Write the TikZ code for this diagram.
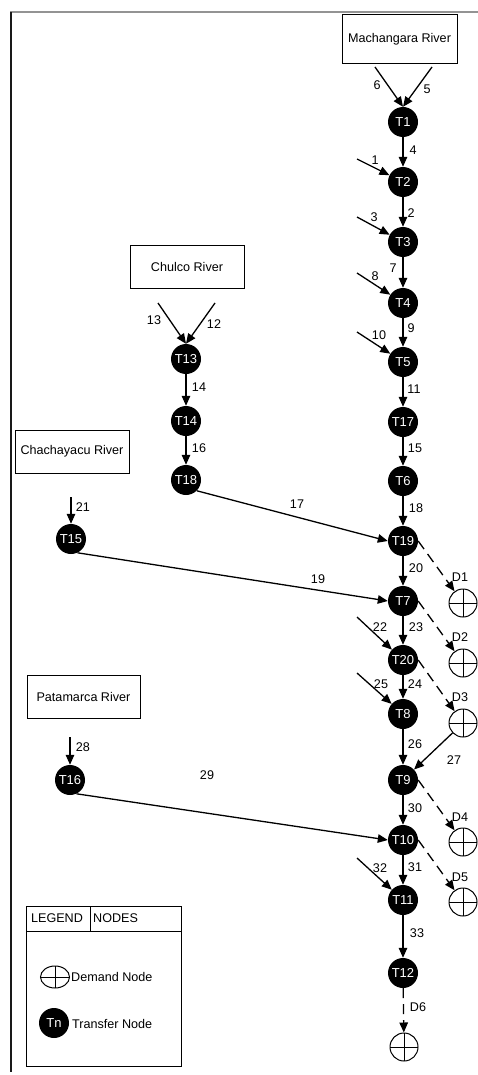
\documentclass[tikz,border=0pt]{standalone}
\usepackage{fontspec}
\setmainfont{Liberation Sans}
\usetikzlibrary{arrows.meta}
\begin{document}
\begin{tikzpicture}[x=1pt,y=-1pt,
  every node/.style={font=\fontsize{12.6}{15}\selectfont},
  tnode/.style={circle,fill=black,text=white,minimum size=30pt,inner sep=0pt,font=\fontsize{13}{15}\selectfont},
  dnode/.style={circle,draw=black,line width=1pt,fill=white,minimum size=28pt,inner sep=0pt,
    path picture={\draw[line width=1pt] (path picture bounding box.north) -- (path picture bounding box.south)
      (path picture bounding box.west) -- (path picture bounding box.east);}},
  river/.style={draw=black,line width=1pt,fill=white,minimum height=43pt,inner sep=0pt},
  flow/.style={line width=1.3pt,-{Triangle[length=10pt,width=8.5pt]}},
  dflow/.style={flow,dash pattern=on 10pt off 6pt},
  lab/.style={inner sep=0pt}
]
\useasboundingbox (0,0) rectangle (478,1075);
% frame
\draw[line width=1.5pt,gray!85] (10,12) -- (478,12);
\draw[line width=2pt,black!90] (11,12) -- (11,1072);

% rivers
\node[river,minimum width=115pt,minimum height=49pt] (mach) at (399.5,39.5) {Machangara River};
\node[river,minimum width=114pt] (chul) at (187,266.5) {Chulco River};
\node[river,minimum width=114pt] (chach) at (72,451.5) {Chachayacu River};
\node[river,minimum width=113pt] (pata) at (83.5,696.5) {Patamarca River};

% transfer nodes
\node[tnode] (T1) at (403,122) {T1};
\node[tnode] (T2) at (403,182) {T2};
\node[tnode] (T3) at (403,242) {T3};
\node[tnode] (T4) at (403,303) {T4};
\node[tnode] (T5) at (403,362) {T5};
\node[tnode] (T17) at (403,422) {T17};
\node[tnode] (T6) at (403,481) {T6};
\node[tnode] (T19) at (403,541) {T19};
\node[tnode] (T7) at (403,601) {T7};
\node[tnode] (T20) at (403,660) {T20};
\node[tnode] (T8) at (403,714) {T8};
\node[tnode] (T9) at (403,780) {T9};
\node[tnode] (T10) at (403,840) {T10};
\node[tnode] (T11) at (403,900) {T11};
\node[tnode] (T12) at (403,973) {T12};
\node[tnode] (T13) at (186,359) {T13};
\node[tnode] (T14) at (186,421) {T14};
\node[tnode] (T18) at (186,480) {T18};
\node[tnode] (T15) at (71,539) {T15};
\node[tnode] (T16) at (70,780) {T16};

% demand nodes
\node[dnode] (D1) at (463,603) {};
\node[dnode] (D2) at (463,663) {};
\node[dnode] (D3) at (463,723) {};
\node[dnode] (D4) at (463,842) {};
\node[dnode] (D5) at (463,902) {};
\node[dnode] (D6) at (404,1047) {};

% free ends
\coordinate (s6) at (375,67);
\coordinate (s5) at (432,67);
\coordinate (s13) at (158,303);
\coordinate (s12) at (215,303);
\coordinate (s1) at (357,159);
\coordinate (s3) at (357,217);
\coordinate (s8) at (357,273);
\coordinate (s10) at (357,332);
\coordinate (s22) at (357,617);
\coordinate (s25) at (357,673);
\coordinate (s32) at (357,858);
\coordinate (s21) at (71,497);
\coordinate (s28) at (70,737);

% main column
\draw[flow] (s6) -- (T1.north);
\draw[flow] (s5) -- (T1.north);
\draw[flow] (T1) -- (T2);
\draw[flow] (s1) -- (T2);
\draw[flow] (T2) -- (T3);
\draw[flow] (s3) -- (T3);
\draw[flow] (T3) -- (T4);
\draw[flow] (s8) -- (T4);
\draw[flow] (T4) -- (T5);
\draw[flow] (s10) -- (T5);
\draw[flow] (T5) -- (T17);
\draw[flow] (T17) -- (T6);
\draw[flow] (T6) -- (T19);
\draw[flow] (T19) -- (T7);
\draw[flow] (T7) -- (T20);
\draw[flow] (s22) -- (T20);
\draw[flow] (T20) -- (T8);
\draw[flow] (s25) -- (T8);
\draw[flow] (T8) -- (T9);
\draw[flow] (D3) -- (T9);
\draw[flow] (T9) -- (T10);
\draw[flow] (T10) -- (T11);
\draw[flow] (s32) -- (T11);
\draw[flow] (T11) -- (T12);

% Chulco branch
\draw[flow] (s13) -- (T13.north);
\draw[flow] (s12) -- (T13.north);
\draw[flow] (T13) -- (T14);
\draw[flow] (T14) -- (T18);
\draw[flow] (T18.south east) -- (T19.west);

% Chachayacu and Patamarca
\draw[flow] (s21) -- (T15);
\draw[flow] (T15.-65) -- (T7.west);
\draw[flow] (s28) -- (T16);
\draw[flow] (T16.-65) -- (T10.west);

% demand arrows
\draw[dflow] (T19.east) -- (D1);
\draw[dflow] (T7.east) -- (D2);
\draw[dflow] (T20.east) -- (D3);
\draw[dflow] (T9.east) -- (D4);
\draw[dflow] (T10.east) -- (D5);
\draw[dflow] (T12) -- (D6);

% labels
\node[lab] (l6) at (377,85) {6};
\node[lab] (l5) at (427,89) {5};
\node[lab] (l4) at (413,150) {4};
\node[lab] (l1) at (375,160) {1};
\node[lab] (l2) at (411,213) {2};
\node[lab] (l3) at (374,217) {3};
\node[lab] (l7) at (393,268) {7};
\node[lab] (l8) at (375,276) {8};
\node[lab] (l9) at (411,328) {9};
\node[lab] (l10) at (379,335) {10};
\node[lab] (l11) at (414,389) {11};
\node[lab] (l15) at (415,448) {15};
\node[lab] (l18) at (416,508) {18};
\node[lab] (l20) at (416,568) {20};
\node[lab] (l22) at (380,627) {22};
\node[lab] (l23) at (416,627) {23};
\node[lab] (l25) at (381,684) {25};
\node[lab] (l24) at (415,684) {24};
\node[lab] (l26) at (415,744) {26};
\node[lab] (l27) at (454,760) {27};
\node[lab] (l30) at (415,808) {30};
\node[lab] (l31) at (415,867) {31};
\node[lab] (l32) at (380,868) {32};
\node[lab] (l33) at (417,933) {33};
\node[lab] (l13) at (154,320) {13};
\node[lab] (l12) at (214,324) {12};
\node[lab] (l14) at (199,387) {14};
\node[lab] (l16) at (199,448) {16};
\node[lab] (l17) at (297,504) {17};
\node[lab] (l21) at (83,507) {21};
\node[lab] (l19) at (318,579) {19};
\node[lab] (l28) at (83,747) {28};
\node[lab] (l29) at (207,775) {29};
\node[lab] (ld1) at (460,577) {D1};
\node[lab] (ld2) at (460,637) {D2};
\node[lab] (ld3) at (460,697) {D3};
\node[lab] (ld4) at (460,817) {D4};
\node[lab] (ld5) at (460,877) {D5};
\node[lab] (ld6) at (418,1007) {D6};

% legend
\draw[line width=1pt] (26,906) rectangle (181,1066);
\draw[line width=1pt] (26,931) -- (181,931);
\draw[line width=1pt] (90,906) -- (90,931);
\node[lab] (lg1) at (57,918) {LEGEND};
\node[lab,anchor=west] (lg2) at (93,918) {NODES};
\draw[line width=1pt] (55,977) ellipse [x radius=14.5pt,y radius=11pt];
\draw[line width=1pt] (40.5,977) -- (69.5,977) (55,966) -- (55,988);
\node[lab,anchor=west] (lg3) at (71,977) {Demand Node};
\node[tnode] (lgT) at (54,1023) {Tn};
\node[lab,anchor=west] (lg4) at (72,1024) {Transfer Node};
\end{tikzpicture}
\end{document}
